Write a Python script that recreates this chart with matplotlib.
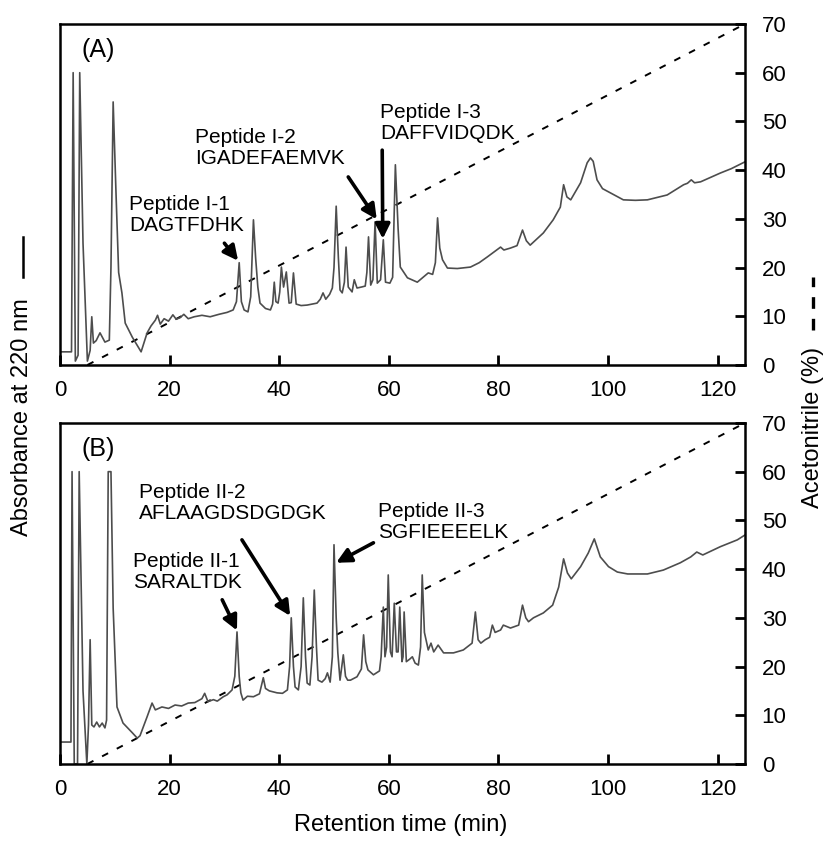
import numpy as np
import matplotlib.pyplot as plt
from matplotlib.lines import Line2D

plt.rcParams['font.family'] = ['Liberation Sans', 'DejaVu Sans']

# acetonitrile gradient (min, %)
grad_t = [5, 125]
grad_pct = [0, 70]

# chromatogram (A): retention time (min) and absorbance (drawn on the 0-70 scale)
rt_a = [0.0, 2.1, 2.4, 2.8, 3.3, 3.6, 4.2, 5.0, 5.5, 5.8,
        6.1, 6.6, 7.3, 8.2, 9.0, 9.3, 9.7, 10.2, 10.7, 11.3,
        11.9, 13.2, 14.8, 15.9, 16.6, 17.4, 17.8, 18.3, 19.0, 19.8,
        20.6, 21.2, 21.9, 22.6, 23.4, 24.5, 25.9, 27.4, 29.0, 30.5,
        31.6, 32.2, 32.7, 33.1, 33.6, 34.3, 34.8, 35.3, 35.7, 36.1,
        36.5, 37.5, 38.4, 38.8, 39.1, 39.4, 39.8, 40.1, 40.4, 40.8,
        41.3, 41.8, 42.2, 42.6, 43.1, 44.0, 45.1, 46.0, 46.9, 47.5,
        48.0, 48.5, 49.2, 49.7, 50.0, 50.4, 50.8, 51.1, 51.5, 51.9,
        52.2, 52.6, 53.3, 53.7, 54.2, 55.0, 55.7, 56.0, 56.3, 56.7,
        57.1, 57.5, 57.9, 58.5, 59.0, 59.4, 60.2, 60.7, 61.2, 61.7,
        62.1, 63.4, 65.2, 67.2, 68.0, 68.5, 68.9, 69.3, 69.8, 70.7,
        72.5, 74.9, 76.5, 78.0, 80.4, 81.0, 82.2, 83.4, 84.4, 85.1,
        85.8, 88.2, 90.0, 91.3, 91.9, 92.5, 93.2, 95.0, 96.2, 96.8,
        97.3, 98.0, 99.0, 100.5, 102.8, 105.0, 107.2, 110.8, 113.8, 114.5,
        115.2, 115.8, 116.9, 118.5, 120.5, 122.5, 125.0]
abs_a = [2.7, 2.7, 60.0, 0.8, 2.0, 60.0, 25.0, 0.8, 3.0, 9.9,
         4.5, 5.0, 6.6, 4.7, 5.1, 20.0, 54.0, 36.0, 19.0, 14.8,
         8.6, 5.7, 2.7, 6.6, 8.0, 9.2, 10.2, 8.4, 9.5, 9.0,
         10.3, 9.4, 9.7, 10.4, 9.5, 9.9, 10.2, 9.9, 10.4, 10.8,
         11.3, 13.0, 21.0, 13.0, 11.3, 10.9, 14.0, 29.8, 22.0, 16.0,
         12.7, 11.6, 11.3, 12.5, 17.0, 13.0, 12.7, 15.0, 20.1, 16.0,
         19.1, 12.7, 12.8, 18.9, 12.5, 12.2, 12.3, 12.5, 12.7, 13.5,
         14.8, 13.5, 14.5, 15.8, 20.0, 32.6, 22.0, 15.4, 14.8, 17.0,
         24.2, 16.0, 15.0, 17.5, 15.8, 16.0, 16.2, 19.0, 26.3, 16.4,
         17.5, 29.4, 16.8, 17.5, 25.7, 17.0, 16.8, 18.0, 41.1, 28.0,
         20.1, 17.9, 17.0, 18.9, 18.6, 21.0, 30.2, 24.0, 21.6, 19.9,
         19.8, 20.1, 21.0, 22.2, 24.2, 23.6, 24.0, 24.5, 27.7, 25.5,
         24.6, 27.1, 29.8, 32.4, 37.0, 34.5, 33.9, 37.4, 41.5, 42.5,
         41.8, 38.0, 36.2, 35.3, 33.9, 33.8, 33.9, 34.9, 37.0, 37.3,
         38.0, 37.4, 37.6, 38.4, 39.4, 40.3, 41.7]

# chromatogram (B)
rt_b = [0.0, 2.0, 2.2, 2.6, 3.2, 3.5, 4.2, 4.9, 5.2, 5.5,
        5.8, 6.2, 6.7, 7.2, 7.7, 8.2, 8.5, 8.8, 9.3, 9.7,
        10.4, 11.5, 13.2, 14.1, 14.6, 15.2, 15.9, 16.8, 17.4, 18.6,
        19.8, 21.0, 22.2, 23.4, 24.6, 25.9, 26.4, 27.0, 28.0, 28.7,
        29.8, 30.5, 31.4, 31.9, 32.3, 32.7, 33.0, 33.4, 34.2, 35.3,
        36.4, 37.1, 37.5, 38.2, 39.6, 40.6, 41.5, 41.9, 42.2, 42.6,
        42.9, 43.5, 44.0, 44.4, 44.8, 45.1, 45.6, 46.0, 46.4, 46.8,
        47.1, 47.8, 48.4, 48.8, 49.3, 49.7, 50.0, 50.4, 50.7, 51.1,
        51.7, 52.1, 52.5, 53.0, 54.2, 55.0, 55.4, 55.8, 56.2, 57.2,
        58.3, 58.6, 59.0, 59.3, 59.6, 59.9, 60.3, 60.6, 61.0, 61.4,
        61.7, 62.0, 62.4, 62.6, 62.8, 63.2, 63.8, 64.3, 64.8, 65.4,
        65.8, 66.1, 66.5, 66.8, 67.2, 67.7, 68.2, 69.0, 70.0, 71.8,
        73.6, 75.2, 75.8, 76.3, 76.8, 77.6, 78.4, 78.9, 79.4, 80.4,
        80.9, 82.2, 83.7, 84.4, 85.0, 85.5, 86.4, 88.2, 89.9, 91.0,
        91.9, 92.6, 93.3, 95.0, 96.4, 97.5, 98.6, 100.1, 101.7, 103.6,
        107.2, 110.1, 113.2, 115.1, 116.2, 117.3, 120.5, 123.6, 125.0]
abs_b = [4.5, 4.5, 60.0, 0.0, 0.0, 60.0, 15.0, 0.0, 8.0, 25.5,
         8.0, 7.6, 8.6, 7.6, 8.4, 7.4, 9.0, 60.0, 60.0, 32.0,
         11.7, 8.4, 6.4, 5.3, 5.8, 7.6, 9.7, 12.5, 11.1, 11.7,
         11.4, 12.1, 11.9, 12.5, 12.6, 13.4, 14.5, 12.8, 13.2, 12.9,
         13.8, 14.2, 15.2, 18.0, 27.1, 18.0, 14.6, 13.1, 13.9, 13.8,
         14.4, 17.7, 15.5, 15.0, 14.6, 14.5, 15.2, 20.0, 30.0, 20.0,
         15.8, 15.2, 20.0, 34.1, 22.0, 16.6, 16.2, 22.0, 35.7, 24.0,
         17.2, 16.8, 17.5, 18.7, 16.8, 22.0, 45.0, 30.0, 22.8, 17.2,
         22.4, 18.0, 17.2, 17.2, 17.9, 19.5, 26.5, 21.0, 19.3, 18.3,
         19.1, 22.0, 32.2, 22.0, 24.0, 38.8, 23.0, 22.0, 33.0, 23.0,
         23.0, 32.2, 21.0, 22.0, 31.2, 21.0, 21.5, 22.0, 20.7, 20.3,
         24.0, 38.8, 27.0, 25.5, 23.4, 24.8, 23.0, 24.4, 22.8, 22.8,
         23.4, 24.8, 31.2, 25.5, 24.8, 25.5, 26.0, 28.5, 27.0, 27.5,
         28.5, 27.9, 28.5, 32.6, 30.0, 29.2, 30.0, 31.0, 32.6, 36.3,
         42.1, 39.2, 38.0, 40.5, 43.3, 46.2, 42.5, 40.5, 39.4, 39.0,
         39.0, 39.8, 41.3, 42.5, 43.5, 42.9, 44.6, 46.0, 47.0]

x_ticks = [0, 20, 40, 60, 80, 100, 120]
y_ticks = [0, 10, 20, 30, 40, 50, 60, 70]

# peak labels: text, text anchor (left, top), arrow tail, arrow head
notes_a = [
    ("Peptide I-1\nDAGTFDHK", (12.6, 34.9), (30.0, 25.0), (32.5, 21.4)),
    ("Peptide I-2\nIGADEFAEMVK", (24.7, 48.7), (52.6, 38.6), (57.8, 29.9)),
    ("Peptide I-3\nDAFFVIDQDK", (58.4, 53.8), (58.8, 44.1), (58.9, 25.9)),
]
notes_b = [
    ("Peptide II-1\nSARALTDK", (13.3, 43.5), (29.6, 33.7), (32.3, 27.4)),
    ("Peptide II-2\nAFLAAGDSDGDGK", (14.4, 57.7), (33.2, 46.0), (42.0, 30.4)),
    ("Peptide II-3\nSGFIEEEELK", (58.1, 53.8), (57.2, 45.4), (50.4, 41.3)),
]

fig = plt.figure(figsize=(8.31, 8.41), dpi=100)
ax_a = fig.add_axes([0.0722, 0.566, 0.8243, 0.4055])
ax_b = fig.add_axes([0.0722, 0.0916, 0.8243, 0.4055])


def draw_panel(ax, rt, ab, tag, notes):
    ax.plot(grad_t, grad_pct, color='black', lw=1.4, dashes=(3.5, 5))
    ax.plot(rt, ab, color='0.3', lw=1.2)
    ax.set_xlim(0, 125)
    ax.set_ylim(0, 70)
    ax.yaxis.tick_right()
    ax.set_xticks(x_ticks)
    ax.set_yticks(y_ticks)
    ax.tick_params(direction='in', length=7, width=2, labelsize=16)
    ax.tick_params(axis='x', pad=11)
    ax.tick_params(axis='y', pad=12)
    for s in ax.spines.values():
        s.set_linewidth(1.8)
    ax.text(4.0, 67.2, tag, fontsize=18, ha='left', va='top')
    for txt, pos, tail, head in notes:
        ax.text(pos[0], pos[1], txt, fontsize=15, ha='left', va='top',
                linespacing=1.15)
        ax.annotate('', xy=head, xytext=tail,
                    arrowprops=dict(arrowstyle='-|>', lw=2.6, color='black',
                                    mutation_scale=22, shrinkA=0, shrinkB=0))


draw_panel(ax_a, rt_a, abs_a, "(A)", notes_a)
draw_panel(ax_b, rt_b, abs_b, "(B)", notes_b)

fig.text(0.482, 0.019, "Retention time (min)", fontsize=17, ha='center', va='center')
fig.text(0.0265, 0.504, "Absorbance at 220 nm", fontsize=17, rotation=90,
         ha='center', va='center')
fig.text(0.978, 0.492, "Acetonitrile (%)", fontsize=17, rotation=90,
         ha='center', va='center')

# line-style keys next to the two axis titles
fig.add_artist(Line2D([0.0275, 0.0275], [0.6706, 0.7182], color='black', lw=1.8))
fig.add_artist(Line2D([0.978, 0.978], [0.6076, 0.6706], color='black', lw=2.4,
                      dashes=(3.5, 3)))

fig.savefig("out.png", dpi=100)
